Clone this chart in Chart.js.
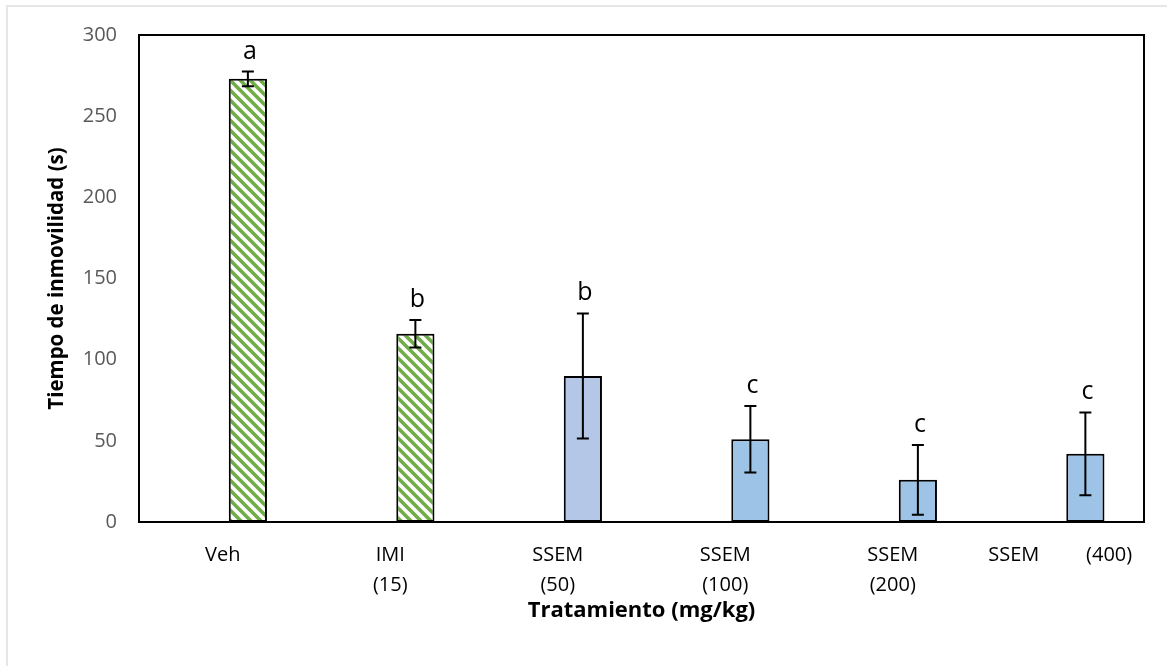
<!DOCTYPE html>
<html>
<head>
<meta charset="utf-8">
<script src="https://cdn.jsdelivr.net/npm/chart.js@4/dist/chart.umd.min.js"></script>
<style>
    body { margin: 0; background: #fff; }
    #wrap { position: relative; width: 1167px; height: 666px; overflow: hidden; }
    #frame { position: absolute; left: 6px; top: 5px; width: 1200px; height: 700px; border: 2px solid #e6e6e6; }
    #chart { position: absolute; left: 0; top: 0; }
</style>
</head>
<body>
<div id="wrap">
    <div id="frame"></div>
    <canvas id="chart" width="1167" height="666"></canvas>
</div>
<script>
var labels = ['Veh', ['IMI', '(15)'], ['SSEM', '(50)'], ['SSEM', '(100)'], ['SSEM', '(200)'], 'SSEM         (400)'];
var means = [273, 116, 90, 51, 26, 42];
var errors = [4.5, 8.5, 38.5, 20.5, 21.5, 25.5];
var letters = ['a', 'b', 'b', 'c', 'c', 'c'];
var yTicks = [0, 50, 100, 150, 200, 250, 300];

// diagonal green hatch like the Excel pattern fill
function makeHatch() {
    var c = document.createElement('canvas');
    c.width = 10;
    c.height = 10;
    var g = c.getContext('2d');
    g.fillStyle = '#ffffff';
    g.fillRect(0, 0, 10, 10);
    g.strokeStyle = '#70ad47';
    g.lineWidth = 3.6;
    g.beginPath();
    g.moveTo(-5, -5); g.lineTo(15, 15);
    g.moveTo(-5, 5); g.lineTo(5, 15);
    g.moveTo(5, -5); g.lineTo(15, 5);
    g.stroke();
    return g.createPattern(c, 'repeat');
}

var hatch = makeHatch();
var fills = [hatch, hatch, '#b4c7e7', '#9dc3e6', '#9dc3e6', '#9dc3e6'];

var errorBars = {
    id: 'errorBars',
    afterDatasetsDraw: function (chart) {
        var ctx = chart.ctx;
        var y = chart.scales.y;
        var meta = chart.getDatasetMeta(1);
        var area = chart.chartArea;

        ctx.save();
        ctx.strokeStyle = '#000';
        ctx.lineWidth = 2;
        ctx.strokeRect(area.left, area.top, area.right - area.left, area.bottom - area.top);

        meta.data.forEach(function (bar, i) {
            var top = y.getPixelForValue(means[i] + errors[i]);
            var bottom = y.getPixelForValue(means[i] - errors[i]);
            ctx.beginPath();
            ctx.moveTo(bar.x, top);
            ctx.lineTo(bar.x, bottom);
            ctx.moveTo(bar.x - 6, top);
            ctx.lineTo(bar.x + 6, top);
            ctx.moveTo(bar.x - 6, bottom);
            ctx.lineTo(bar.x + 6, bottom);
            ctx.stroke();

            ctx.fillStyle = '#000';
            ctx.font = '25px "Open Sans"';
            ctx.textAlign = 'center';
            ctx.textBaseline = 'alphabetic';
            ctx.fillText(letters[i], bar.x + 2, top - 13);
        });
        ctx.restore();
    }
};

var chartData = {
    labels: labels,
    datasets: [{
        label: 'blank',
        data: labels.map(function () { return null; })
    }, {
        label: 'Tiempo',
        data: means,
        backgroundColor: fills,
        borderColor: '#000',
        borderWidth: 2,
        borderSkipped: false
    }]
};

var options = {
    responsive: false,
    animation: false,
    devicePixelRatio: 1,
    categoryPercentage: 0.6,
    barPercentage: 0.76,
    layout: { padding: { left: 0, top: 35, right: 23, bottom: 0 } },
    plugins: {
        legend: { display: false },
        tooltip: { enabled: false }
    },
    scales: {
        x: {
            grid: { display: false, drawTicks: false },
            border: { display: true, color: '#000', width: 2 },
            ticks: {
                color: '#000',
                padding: 18,
                maxRotation: 0,
                autoSkip: false,
                font: { family: 'Open Sans', size: 20, lineHeight: '30px' }
            },
            title: {
                display: true,
                text: 'Tratamiento (mg/kg)',
                color: '#000',
                padding: { top: 0, bottom: 42 },
                font: { family: 'Open Sans', size: 22, weight: 'bold', lineHeight: 1.2 }
            },
            afterFit: function (scale) { scale.height = 144; }
        },
        y: {
            min: 0,
            max: 300,
            grid: { display: false, drawTicks: false },
            border: { display: true, color: '#000', width: 2 },
            afterBuildTicks: function (scale) {
                scale.ticks = yTicks.map(function (v) { return { value: v }; });
            },
            ticks: {
                color: '#595959',
                padding: 22,
                font: { family: 'Open Sans', size: 20 }
            },
            title: {
                display: true,
                text: 'Tiempo de inmovilidad (s)',
                color: '#000',
                padding: { top: 45, bottom: 0 },
                font: { family: 'Open Sans', size: 20.5, weight: 'bold', lineHeight: 1.2 }
            },
            afterFit: function (scale) { scale.width = 139; }
        }
    }
};

new Chart(document.getElementById('chart').getContext('2d'), {
    type: 'bar',
    data: chartData,
    options: options,
    plugins: [errorBars]
});
</script>
</body>
</html>
